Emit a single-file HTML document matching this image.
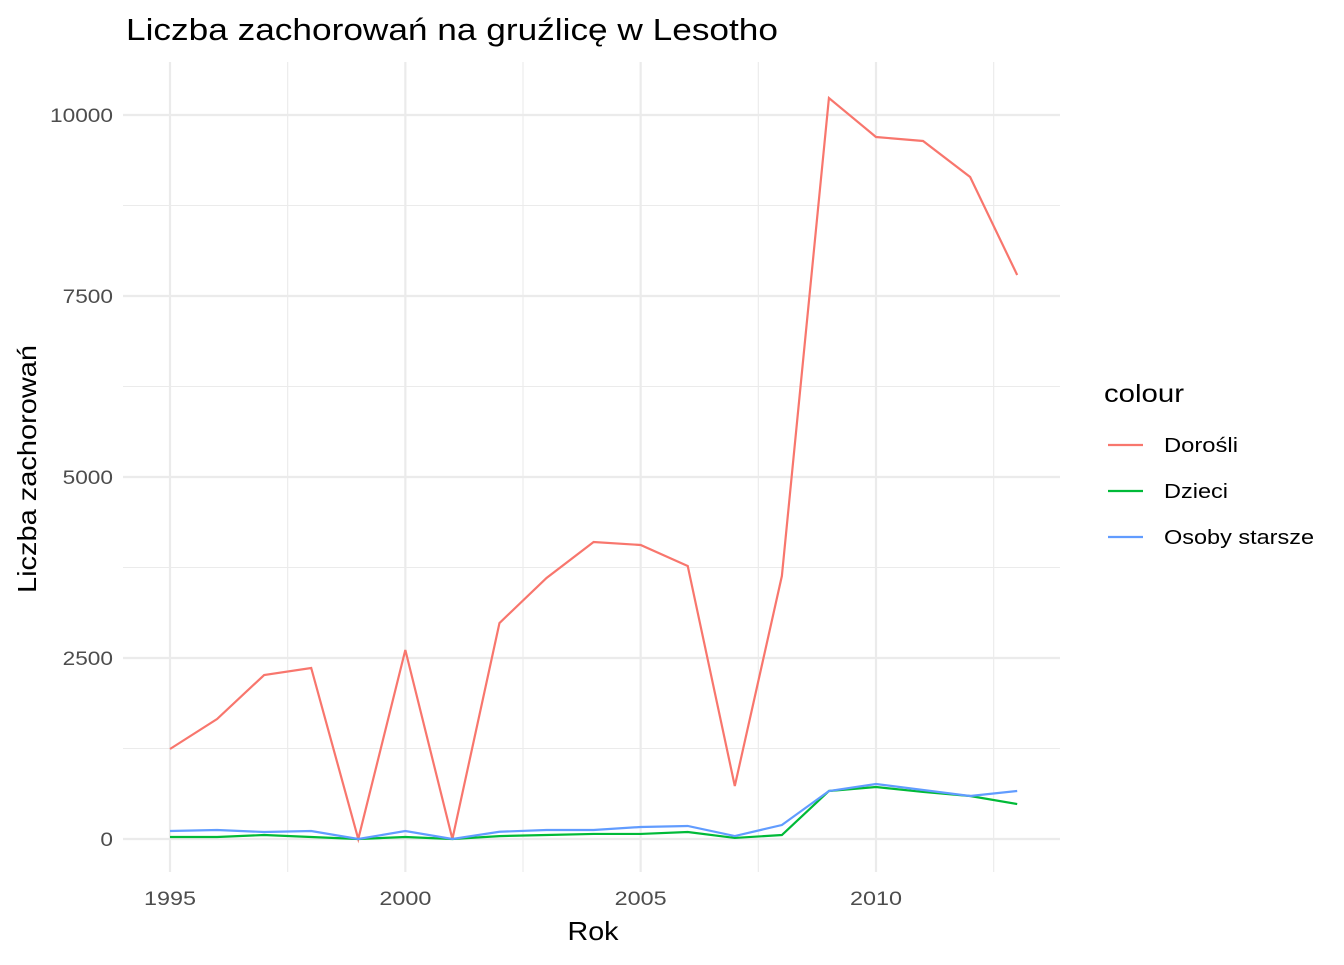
<!DOCTYPE html>
<html><head><meta charset="utf-8"><style>
body{margin:0;background:#fff;font-family:"Liberation Sans",sans-serif}
</style></head><body>
<svg id="chart" width="1344" height="960" xmlns="http://www.w3.org/2000/svg">
<text x="126" y="40" font-size="31" textLength="652" lengthAdjust="spacingAndGlyphs" fill="#000">Liczba zachorowań na gruźlicę w Lesotho</text>
<g id="grid"></g><g id="series"></g><g id="axes"></g>
<text x="593" y="940" font-size="26" textLength="51" lengthAdjust="spacingAndGlyphs" text-anchor="middle">Rok</text>
<text transform="translate(36,469) rotate(-90)" font-size="26" textLength="248" lengthAdjust="spacingAndGlyphs" text-anchor="middle">Liczba zachorowań</text>
<g id="legend">
<text x="1104" y="402" font-size="25" textLength="80" lengthAdjust="spacingAndGlyphs">colour</text>
</g>
</svg>
<script>
const years=[1995,1996,1997,1998,1999,2000,2001,2002,2003,2004,2005,2006,2007,2008,2009,2010,2011,2012,2013];
const dorosli=[1243,1657,2265,2362,0,2610,0,2983,3605,4102,4061,3770,732,3632,10235,9696,9641,9144,7790];
const dzieci=[28,28,55,28,0,28,0,40,55,70,70,97,15,55,663,718,650,594,483];
const starsze=[110,124,97,110,0,110,0,100,124,124,166,180,41,193,663,760,677,594,663];
const seriesNames=["Dorośli","Dzieci","Osoby starsze"];
const legendWidths=[74,64,150];
const colors=["#F8766D","#00BA38","#619CFF"];
const xTicks=[1995,2000,2005,2010];
const yTicks=[0,2500,5000,7500,10000];
const ns="http://www.w3.org/2000/svg";
const X=v=>170+(v-1995)*(876-170)/15;
const Y=v=>839-v*(839-115)/10000;
const L=123,R=1060,T=62,B=872;
function mk(tag,attrs,parent){const e=document.createElementNS(ns,tag);for(const k in attrs)e.setAttribute(k,attrs[k]);parent.appendChild(e);return e;}
const grid=document.getElementById('grid'),axes=document.getElementById('axes'),ser=document.getElementById('series');
for(let v=1992.5;v<=2015;v+=2.5){const x=X(v);if(x<L||x>R)continue;const major=xTicks.includes(v);
const g=mk('line',{x1:x,x2:x,y1:T,y2:B,stroke:'#ebebeb','stroke-width':major?2.2:1.1},grid);

}
for(let v=-1250;v<=11250;v+=1250){const y=Y(v);if(y<T||y>B)continue;const major=yTicks.includes(v);
const g=mk('line',{x1:L,x2:R,y1:y,y2:y,stroke:'#ebebeb','stroke-width':major?2.2:1.1},grid);

}
xTicks.forEach(v=>{const t=mk('text',{x:X(v),y:905,'font-size':19,'text-anchor':'middle',fill:'#4d4d4d',textLength:52,lengthAdjust:'spacingAndGlyphs'},axes);t.textContent=v;

});
yTicks.forEach(v=>{const s=String(v);const t=mk('text',{x:113,y:Y(v)+7,'font-size':19,'text-anchor':'end',fill:'#4d4d4d',textLength:s.length*12.6,lengthAdjust:'spacingAndGlyphs'},axes);t.textContent=s;

});
[dorosli,dzieci,starsze].forEach((arr,i)=>{
const p=mk('polyline',{points:arr.map((v,j)=>X(years[j])+','+Y(v)).join(' '),fill:'none',stroke:colors[i],'stroke-width':2.2},ser);


const lg=document.getElementById('legend');
const ly=445+i*46;
const l=mk('line',{x1:1108,x2:1143,y1:ly,y2:ly,stroke:colors[i],'stroke-width':2.2},lg);


const t=mk('text',{x:1164,y:ly+7,'font-size':20,textLength:legendWidths[i],lengthAdjust:'spacingAndGlyphs'},lg);t.textContent=seriesNames[i];


});
</script>
</body></html>
